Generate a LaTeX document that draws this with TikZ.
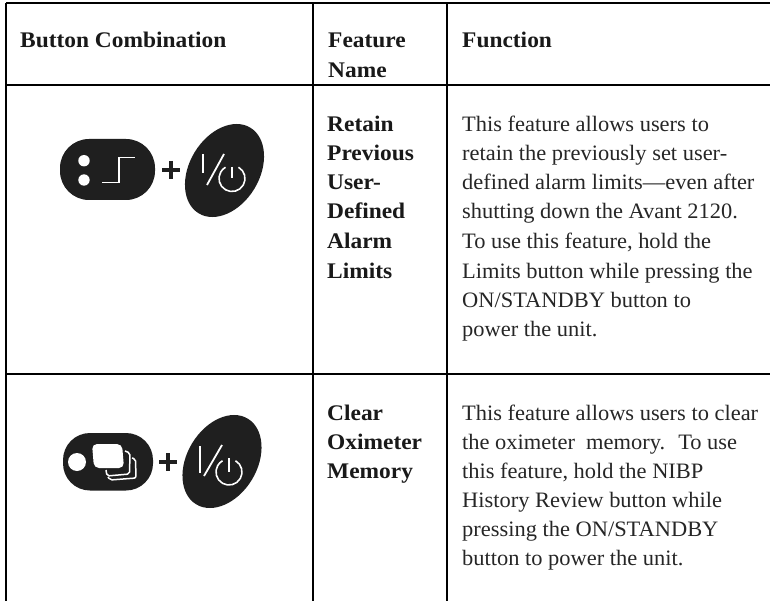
\documentclass[tikz,border=0pt]{standalone}
\usepackage{fontspec}
\setmainfont{Liberation Serif}
\newfontfamily\bodyfont[FakeStretch=1.02,Ligatures=TeX]{Liberation Serif}
\newfontfamily\headfont[FakeStretch=1.05,BoldFont={Liberation Serif Bold}]{Liberation Serif}
\tikzset{
 x=1bp,y=-1bp,
 rule/.style={line width=2bp,black},
 hd/.style={anchor=base west,inner sep=0pt,font=\headfont\fontsize{22.3bp}{29bp}\selectfont\bfseries,text=black!90},
 tx/.style={anchor=base west,inner sep=0pt,font=\bodyfont\fontsize{22bp}{29bp}\selectfont,text=black!85},
 blk/.style={fill=black!88,draw=none},
 wln/.style={draw=white,line width=1.5bp},
 plus/.style={draw=black!88,line width=4bp}
}
\begin{document}
\begin{tikzpicture}
\useasboundingbox (0,0) rectangle (770,601);
\fill[white] (0,0) rectangle (770,601);
\coordinate (tl) at (6,3); \coordinate (tr) at (770,3);
\coordinate (a1) at (6,85.5); \coordinate (a2) at (770,85.5);
\coordinate (b1) at (6,374); \coordinate (b2) at (770,374);
\coordinate (c1t) at (313,3); \coordinate (c1b) at (313,601);
\coordinate (c2t) at (447,3); \coordinate (c2b) at (447,601);
\coordinate (l1) at (6,601);
\draw[rule] (tl)--(tr) (a1)--(a2) (b1)--(b2) (tl)--(l1) (c1t)--(c1b) (c2t)--(c2b);
\node[hd] (h1) at (20,48) {Button Combination};
\node[hd] (h2) at (328,48) {Feature};
\node[hd] (h2b) at (328,78) {Name};
\node[hd] (h3) at (462,48) {Function};
\foreach \i/\t/\y in {a/Retain/132,b/Previous/161,c/User-/190,d/Defined/219,e/Alarm/248,f/Limits/278}
 \node[hd] (n\i) at (327,\y) {\t};
\foreach \i/\t/\y in {a/Clear/420,b/Oximeter/449,c/Memory/478}
 \node[hd] (m\i) at (327,\y) {\t};
\foreach \i/\t/\y in {a/This feature allows users to/132,b/retain the previously set user-/161,c/defined alarm limits---even after/190,d/shutting down the Avant 2120./219,e/To use this feature{,} hold the/248,f/Limits button while pressing the/278,g/{ON/STANDBY button to}/307,h/power the unit./336}
 \node[tx] (p\i) at (462,\y) {\t};
\foreach \i/\t/\y in {a/This feature allows users to clear/420,b/the oximeter \ memory. \ To use/449,c/this feature{,} hold the NIBP/478,d/History Review button while/507,e/{pressing the ON/STANDBY}/536,f/button to power the unit./565}
 \node[tx] (q\i) at (462,\y) {\t};
% first buttons
\fill[blk,rounded corners=29bp] (60,139) rectangle (155,200);
\fill[white] (84,160.7) circle (5.7) (84,180) circle (5.7);
\draw[wln,line width=1.6bp] (102,182.7) -- (119,182.7) -- (119,157.7) -- (135,157.7);
\draw[plus] (171,161) -- (171,179) (162,170) -- (180,170);
\fill[blk,rotate around={-31:(224.5,170.5)}] (224.5,170.5) ellipse (35 and 50);
\draw[wln,line width=1.6bp] (203,154) -- (203,173);
\draw[wln,line width=1.8bp] (224,154) -- (207,185);
\coordinate (pw1) at (232,178.5);
\draw[wln,line width=1.6bp] (pw1) ++(-60:13) arc[start angle=-60,delta angle=300,radius=13];
\draw[wln,line width=1.6bp] (232,167) -- (pw1);
% second buttons
\fill[blk,rounded corners=27bp] (63,433) rectangle (153,490.5);
\fill[white] (77,462) circle (9);
\fill[white,rounded corners=5bp] (92,444) -- (122,444) -- (124,468) -- (94,468) -- cycle;
\draw[wln,rounded corners=2bp] (125,451) -- (130,453) -- (129.5,474) -- (107,476) -- (106,470);
\draw[wln,rounded corners=2bp] (132,458) -- (135.5,459) -- (136,478) -- (110,480) -- (108,477);
\draw[plus] (168,453) -- (168,471) (159,462) -- (177,462);
\fill[blk,rotate around={-31:(222,461.5)}] (222,461.5) ellipse (35 and 50);
\draw[wln,line width=1.6bp] (200,446) -- (200,473);
\draw[wln,line width=1.8bp] (222,445) -- (204,476);
\coordinate (pw2) at (229,472);
\draw[wln,line width=1.6bp] (pw2) ++(-60:13) arc[start angle=-60,delta angle=300,radius=13];
\draw[wln,line width=1.6bp] (229,458) -- (pw2);
\end{tikzpicture}
\end{document}
